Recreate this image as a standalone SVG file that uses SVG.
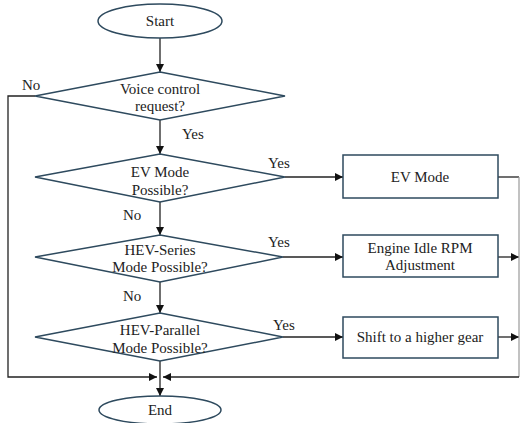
<svg xmlns="http://www.w3.org/2000/svg" width="520" height="423" viewBox="0 0 520 423">
<style>
.shape{fill:#ffffff;stroke:#2e4a5e;stroke-width:1.5}
.line{fill:none;stroke:#222222;stroke-width:1.3}
.edge{fill:none;stroke:#999999;stroke-width:1.2}
text{font-family:"Liberation Serif","Times New Roman",serif;font-size:15px;fill:#222222}
.c{text-anchor:middle}
</style>
<defs>
<marker id="arr" viewBox="0 0 10 10" refX="10" refY="5" markerWidth="8" markerHeight="8" markerUnits="userSpaceOnUse" orient="auto">
<path d="M0,0 L10,5 L0,10 z" fill="#111111"/>
</marker>
</defs>
<g id="connectors">
<line class="line" x1="160" y1="38" x2="160" y2="72" marker-end="url(#arr)"/>
<line class="line" x1="160" y1="120" x2="160" y2="154" marker-end="url(#arr)"/>
<line class="line" x1="160" y1="202" x2="160" y2="235" marker-end="url(#arr)"/>
<line class="line" x1="160" y1="282" x2="160" y2="313" marker-end="url(#arr)"/>
<line class="line" x1="160" y1="361" x2="160" y2="396" marker-end="url(#arr)"/>
<polyline class="line" points="35,96 8,96 8,377 157,377" marker-end="url(#arr)"/>
<line class="line" x1="285" y1="177" x2="343" y2="177" marker-end="url(#arr)"/>
<line class="line" x1="283" y1="257" x2="343" y2="257" marker-end="url(#arr)"/>
<line class="line" x1="283" y1="337" x2="343" y2="337" marker-end="url(#arr)"/>
<line class="line" x1="498" y1="177" x2="519" y2="177"/>
<line class="line" x1="498" y1="257" x2="519" y2="257" marker-end="url(#arr)"/>
<line class="line" x1="498" y1="337" x2="519" y2="337" marker-end="url(#arr)"/>
<line class="edge" x1="519" y1="177" x2="519" y2="377"/>
<line class="line" x1="519" y1="377" x2="163" y2="377" marker-end="url(#arr)"/>
<text x="22" y="90">No</text>
<text x="182" y="139">Yes</text>
<text x="268" y="168">Yes</text>
<text x="123" y="220">No</text>
<text x="268" y="247">Yes</text>
<text x="123" y="301">No</text>
<text x="273" y="330">Yes</text>
</g>
<g id="start">
<ellipse class="shape" cx="160" cy="21" rx="62" ry="17"/>
<text class="c" x="160" y="26">Start</text>
</g>
<g id="voice">
<polygon class="shape" points="160,72 285,96 160,120 35,96"/>
<text class="c" x="160" y="94">Voice control</text>
<text class="c" x="160" y="111">request?</text>
</g>
<g id="ev-possible">
<polygon class="shape" points="160,154 285,177 160,202 35,177"/>
<text class="c" x="160" y="177">EV Mode</text>
<text class="c" x="160" y="195">Possible?</text>
</g>
<g id="hev-series">
<polygon class="shape" points="160,235 283,257 160,282 35,257"/>
<text class="c" x="160" y="255">HEV-Series</text>
<text class="c" x="160" y="272">Mode Possible?</text>
</g>
<g id="hev-parallel">
<polygon class="shape" points="160,313 283,337 160,361 35,337"/>
<text class="c" x="160" y="335">HEV-Parallel</text>
<text class="c" x="160" y="353">Mode Possible?</text>
</g>
<g id="ev-mode">
<rect class="shape" x="343" y="155" width="155" height="43"/>
<text class="c" x="420" y="182">EV Mode</text>
</g>
<g id="engine-idle">
<rect class="shape" x="343" y="235" width="155" height="42"/>
<text class="c" x="420" y="253">Engine Idle RPM</text>
<text class="c" x="420" y="270">Adjustment</text>
</g>
<g id="shift">
<rect class="shape" x="343" y="317" width="155" height="41"/>
<text class="c" x="420" y="342">Shift to a higher gear</text>
</g>
<g id="end">
<ellipse class="shape" cx="160" cy="410" rx="61" ry="14"/>
<text class="c" x="160" y="415">End</text>
</g>
</svg>
